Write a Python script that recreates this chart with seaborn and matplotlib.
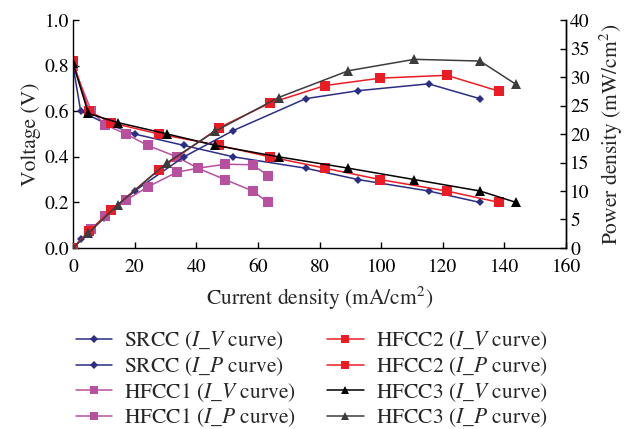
import matplotlib
matplotlib.use("Agg")
import matplotlib.pyplot as plt
import seaborn as sns
from matplotlib.lines import Line2D

# ---- data ----
srcc_i = [0, 2.5, 10, 20, 36, 52, 75.5, 92.6, 115.4, 132]
srcc_v = [0.80, 0.60, 0.55, 0.50, 0.45, 0.40, 0.35, 0.30, 0.25, 0.20]
srcc_p = [0, 1.5, 5.3, 10.0, 16.0, 20.6, 26.2, 27.6, 28.8, 26.2]

hfcc1_i = [0, 6, 10.5, 17.2, 24.2, 33.7, 40.5, 49.4, 58.3, 63.3]
hfcc1_v = [0.80, 0.60, 0.54, 0.50, 0.45, 0.40, 0.35, 0.30, 0.25, 0.20]
hfcc1_p = [0, 3.4, 5.6, 8.4, 10.7, 13.3, 14.0, 14.7, 14.6, 12.7]

hfcc2_i = [0, 5.2, 12.3, 27.8, 47.4, 63.8, 81.8, 99.7, 121.3, 138.3]
hfcc2_v = [0.82, 0.60, 0.55, 0.50, 0.45, 0.40, 0.35, 0.30, 0.25, 0.20]
hfcc2_p = [0, 2.9, 6.6, 13.7, 21.1, 25.4, 28.5, 29.8, 30.3, 27.5]

hfcc3_i = [0, 5, 14.6, 30.6, 46.2, 66.7, 89.4, 110.8, 132.1, 143.8]
hfcc3_v = [0.81, 0.59, 0.55, 0.50, 0.45, 0.40, 0.35, 0.30, 0.25, 0.20]
hfcc3_p = [0, 2.6, 7.6, 15.0, 20.5, 26.4, 31.1, 33.1, 32.8, 28.7]

x_ticks = [0, 20, 40, 60, 80, 100, 120, 140, 160]
v_ticks = [0.0, 0.2, 0.4, 0.6, 0.8, 1.0]
p_ticks = [0, 5, 10, 15, 20, 25, 30, 35, 40]

names = ["SRCC", "HFCC1", "HFCC2", "HFCC3"]

# ---- style ----
sns.set_style("ticks")
plt.rcParams["font.family"] = ["STIXGeneral", "DejaVu Serif"]
plt.rcParams["mathtext.fontset"] = "stix"
plt.rcParams["xtick.direction"] = "in"
plt.rcParams["ytick.direction"] = "in"

c_srcc = "#2B2E85"
c_h1 = "#B7509F"
c_h2 = "#EC1C24"
c_h3v = "#000000"
c_h3p = "#3C3C3C"

fig = plt.figure(figsize=(6.26, 4.29), dpi=100)
ax = fig.add_axes([73 / 626, 1 - 248 / 429, (566 - 73) / 626, (248 - 20) / 429])
ax2 = ax.twinx()

lw = 1.1
specs = [
    (srcc_i, srcc_v, srcc_p, c_srcc, c_srcc, "D", 4.5),
    (hfcc1_i, hfcc1_v, hfcc1_p, c_h1, c_h1, "s", 7),
    (hfcc2_i, hfcc2_v, hfcc2_p, c_h2, c_h2, "s", 7.5),
    (hfcc3_i, hfcc3_v, hfcc3_p, c_h3v, c_h3p, "^", 7.5),
]

for (xi, yv, yp, cv, cp, mk, ms) in specs:
    sns.lineplot(x=xi, y=yv, ax=ax, color=cv, marker=mk, markersize=ms,
                 markeredgewidth=0, linewidth=lw, sort=False, legend=False)
    sns.lineplot(x=xi, y=yp, ax=ax2, color=cp, marker=mk, markersize=ms,
                 markeredgewidth=0, linewidth=lw, sort=False, legend=False)

ax.set_xlim(0, 160)
ax.set_ylim(0, 1.0)
ax2.set_ylim(0, 40)
ax.set_xticks(x_ticks)
ax.set_yticks(v_ticks)
ax.set_yticklabels([f"{v:.1f}" for v in v_ticks])
ax2.set_yticks(p_ticks)
ax.set_xticklabels([str(t) for t in x_ticks])

for a in (ax, ax2):
    a.spines["top"].set_visible(False)
    for s in a.spines.values():
        s.set_linewidth(1.0)
        s.set_color("black")
    a.tick_params(labelsize=14, length=4, width=1.0, colors="black", pad=3)
ax.tick_params(axis="x", pad=8)
ax2.spines["left"].set_visible(False)
ax2.spines["bottom"].set_visible(False)

ax.set_xlabel("Current density (mA/cm$^2$)", fontsize=15.5, labelpad=6)
ax.set_ylabel("Voltage (V)", fontsize=15.5, labelpad=2)
ax2.set_ylabel("Power density (mW/cm$^2$)", fontsize=15.5, labelpad=6)

# ---- legend ----
handles = []
labels = []
for (xi, yv, yp, cv, cp, mk, ms), nm in zip(specs, names):
    handles.append(Line2D([], [], color=cv, marker=mk, markersize=ms * 0.8,
                          markeredgewidth=0, linewidth=lw))
    labels.append(f"{nm} ($I$_$V$ curve)")
    handles.append(Line2D([], [], color=cp, marker=mk, markersize=ms * 0.8,
                          markeredgewidth=0, linewidth=lw))
    labels.append(f"{nm} ($I$_$P$ curve)")

fig.legend(handles, labels, ncol=2, loc="upper left",
           bbox_to_anchor=(0.097, 0.267), frameon=False, fontsize=15.5,
           handlelength=1.7, handletextpad=0.55, columnspacing=1.45,
           labelspacing=0.14, borderpad=0.2)

fig.savefig("out.png", dpi=100)
